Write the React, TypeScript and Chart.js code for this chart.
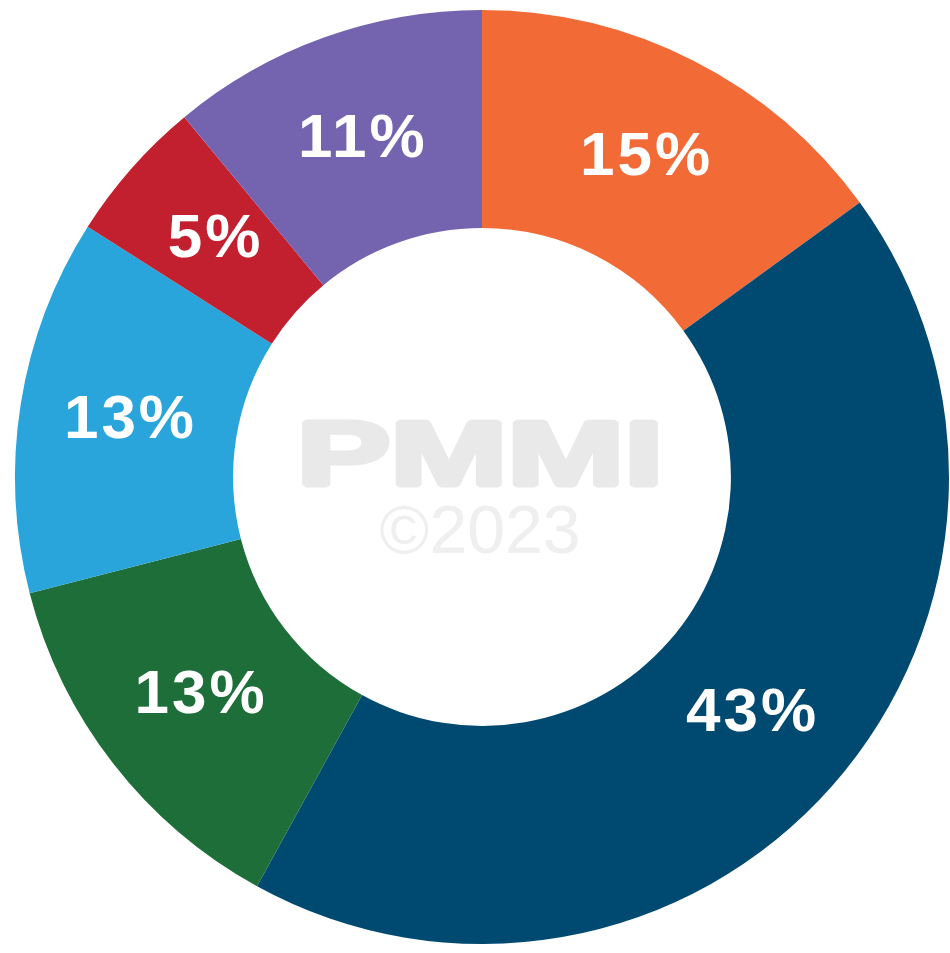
import React, { useEffect, useRef } from "react";
import { Chart, registerables } from "chart.js";

Chart.register(...registerables);

const categories = ["Orange", "Navy", "Green", "Light blue", "Red", "Purple"];
const values = [15, 43, 13, 13, 5, 11];
const labels = ["15%", "43%", "13%", "13%", "5%", "11%"];
const colors = ["#F26A36", "#004A72", "#1E6E3A", "#29A5DB", "#C3202F", "#7463AE"];
const watermark = ["PMMI", "©2023"];

const labelPlugin = {
  id: "sliceLabels",
  afterDatasetsDraw(chart: any) {
    const ctx = chart.ctx;
    const meta = chart.getDatasetMeta(0);
    ctx.save();
    ctx.fillStyle = "#ffffff";
    ctx.font = "bold 62px 'Liberation Sans', Arial, sans-serif";
    (ctx as any).letterSpacing = "3px";
    ctx.textAlign = "center";
    ctx.textBaseline = "middle";
    meta.data.forEach((arc: any, i: number) => {
      const p = arc.tooltipPosition();
      ctx.fillText(labels[i], p.x + 2, p.y);
    });
    ctx.restore();
  },
};

const watermarkPlugin = {
  id: "watermark",
  afterDatasetsDraw(chart: any) {
    const ctx = chart.ctx;
    const meta = chart.getDatasetMeta(0);
    const arc: any = meta.data[0];
    const cx = arc.x;
    const cy = arc.y;
    ctx.save();
    ctx.textAlign = "center";
    ctx.textBaseline = "alphabetic";
    ctx.fillStyle = "#E9E9E9";
    ctx.strokeStyle = "#E9E9E9";
    ctx.lineWidth = 5;
    ctx.lineJoin = "bevel";
    ctx.translate(cx - 2, cy + 8);
    ctx.scale(1.56, 1);
    ctx.font = "bold 90px 'Liberation Sans', Arial, sans-serif";
    ctx.fillText(watermark[0], 0, 0);
    ctx.strokeText(watermark[0], 0, 0);
    ctx.restore();
    ctx.save();
    ctx.textAlign = "center";
    ctx.textBaseline = "alphabetic";
    ctx.fillStyle = "#EFEFEF";
    ctx.font = "68px 'Liberation Sans', Arial, sans-serif";
    ctx.fillText(watermark[1], cx - 2, cy + 76);
    ctx.restore();
  },
};

export default function App() {
  const ref = useRef<HTMLCanvasElement | null>(null);
  useEffect(() => {
    if (!ref.current) return;
    const chart = new Chart(ref.current, {
      type: "doughnut",
      data: {
        labels: categories,
        datasets: [
          {
            data: values,
            backgroundColor: colors,
            borderWidth: 0,
          },
        ],
      },
      options: {
        responsive: false,
        animation: false,
        cutout: "53.3%",
        layout: { padding: { left: 15, right: 1, top: 10, bottom: 9 } },
        plugins: {
          legend: { display: false },
          tooltip: { enabled: false },
        },
      },
      plugins: [watermarkPlugin, labelPlugin],
    });
    return () => chart.destroy();
  }, []);
  return (
    <div style={{ position: "fixed", left: 0, top: 0, width: 950, height: 953, background: "#fff" }}>
      <canvas ref={ref} width={950} height={953} style={{ width: 950, height: 953 }} />
    </div>
  );
}
